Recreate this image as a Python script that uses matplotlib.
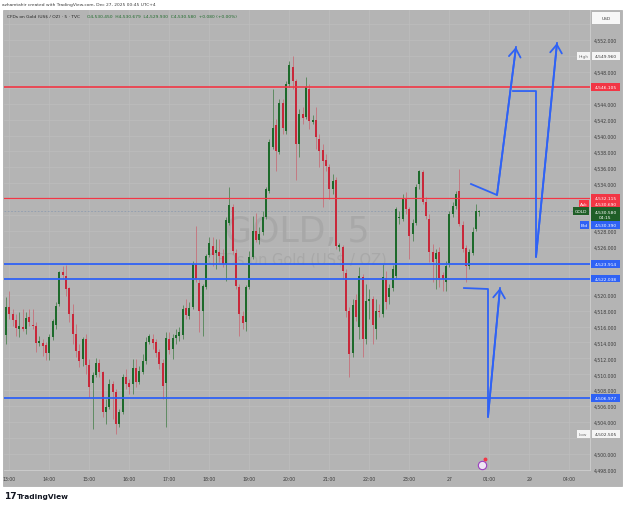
import numpy as np
import matplotlib.pyplot as plt
from matplotlib.patches import Rectangle

# 5 min candles, GOLD (TVC), 12:55 -> 00:45
opens = [4514.94, 4518.46, 4517.58, 4516.82, 4515.69, 4515.94, 4515.69, 4517.20, 4516.20, 4516.07,
         4513.93, 4513.93, 4513.68, 4512.68, 4514.69, 4516.20, 4518.83, 4522.85, 4522.35, 4520.84,
         4517.58, 4515.06, 4512.93, 4511.92, 4514.44, 4511.17, 4508.91, 4509.91, 4511.42, 4510.29,
         4505.27, 4505.89, 4508.78, 4507.78, 4503.76, 4505.27, 4509.66, 4508.91, 4508.78, 4510.79,
         4509.03, 4510.29, 4511.67, 4514.06, 4514.44, 4514.06, 4512.80, 4511.42, 4508.91, 4514.44,
         4513.18, 4514.56, 4514.81, 4514.94, 4518.33, 4517.33, 4518.46, 4523.86, 4521.47, 4517.95,
         4520.97, 4524.99, 4526.12, 4525.24, 4525.37, 4524.86, 4523.86, 4529.01, 4531.02, 4525.24,
         4520.97, 4517.33, 4516.57, 4520.97, 4524.74, 4528.00, 4526.87, 4527.88, 4529.76, 4533.03,
         4538.56, 4541.32, 4537.93, 4544.08, 4540.57, 4546.47, 4548.61, 4546.85, 4538.93, 4542.70,
         4542.33, 4545.84, 4541.70, 4541.95, 4539.56, 4538.18, 4536.92, 4536.04, 4533.28, 4534.41,
         4525.99, 4525.99, 4522.73, 4517.95, 4512.68, 4519.34, 4515.94, 4522.23, 4514.44, 4519.21,
         4519.46, 4515.69, 4517.95, 4517.58, 4522.10, 4519.71, 4520.84, 4522.35, 4529.64, 4529.51,
         4532.02, 4530.77, 4527.63, 4529.01, 4533.91, 4535.42, 4531.65, 4529.51, 4525.37, 4524.49,
         4525.37, 4522.48, 4521.60, 4523.86, 4530.14, 4531.15, 4533.03, 4528.76, 4525.87, 4523.61,
         4525.24, 4528.26, 4530.45]
highs = [4519.71, 4520.47, 4518.21, 4517.58, 4517.83, 4518.21, 4517.83, 4518.21, 4518.21, 4516.57,
         4514.81, 4514.44, 4514.06, 4515.06, 4516.95, 4519.08, 4522.98, 4523.61, 4523.73, 4520.97,
         4518.83, 4516.32, 4513.81, 4514.69, 4515.06, 4511.92, 4510.29, 4512.05, 4511.92, 4510.42,
         4506.90, 4509.41, 4509.16, 4508.15, 4505.64, 4510.04, 4510.67, 4509.41, 4511.92, 4511.92,
         4511.04, 4512.55, 4514.69, 4515.06, 4515.06, 4514.44, 4513.18, 4511.92, 4515.32, 4515.32,
         4515.06, 4515.69, 4515.94, 4518.71, 4519.46, 4519.08, 4524.24, 4528.63, 4521.97, 4521.35,
         4525.11, 4527.25, 4527.25, 4527.00, 4527.00, 4525.74, 4529.76, 4533.53, 4531.40, 4525.74,
         4521.35, 4517.95, 4521.22, 4525.49, 4529.89, 4530.27, 4528.51, 4530.52, 4533.53, 4539.56,
         4545.84, 4542.07, 4544.59, 4544.59, 4546.85, 4549.36, 4549.96, 4547.10, 4543.33, 4543.58,
         4547.35, 4546.47, 4542.58, 4543.58, 4540.19, 4538.93, 4537.68, 4536.42, 4535.17, 4534.79,
         4526.50, 4526.25, 4523.23, 4518.46, 4519.46, 4520.09, 4523.48, 4522.60, 4521.35, 4520.72,
         4519.84, 4519.46, 4518.83, 4523.86, 4522.98, 4521.35, 4523.73, 4531.02, 4530.52, 4532.65,
         4532.90, 4531.02, 4529.51, 4533.91, 4535.67, 4535.67, 4532.28, 4530.14, 4526.37, 4525.74,
         4525.99, 4522.85, 4524.24, 4530.52, 4531.65, 4533.03, 4535.79, 4529.26, 4526.25, 4525.74,
         4528.51, 4531.40, 4530.679]
lows = [4513.81, 4516.95, 4516.07, 4514.81, 4514.69, 4515.44, 4515.06, 4516.07, 4515.69, 4512.80,
        4513.56, 4512.30, 4511.80, 4511.80, 4514.31, 4515.69, 4518.58, 4521.97, 4519.84, 4516.57,
        4513.81, 4512.17, 4510.92, 4511.04, 4510.04, 4507.15, 4503.13, 4509.66, 4509.66, 4504.64,
        4503.76, 4505.64, 4504.39, 4502.505, 4503.38, 4505.01, 4508.15, 4507.53, 4507.53, 4508.41,
        4508.78, 4510.04, 4511.29, 4513.81, 4513.18, 4512.17, 4510.67, 4506.90, 4503.38, 4512.55,
        4511.92, 4513.81, 4514.18, 4514.44, 4516.95, 4516.95, 4518.21, 4521.60, 4515.32, 4514.81,
        4520.72, 4524.74, 4523.61, 4523.23, 4524.11, 4523.48, 4521.72, 4528.76, 4525.11, 4520.72,
        4514.81, 4515.69, 4515.44, 4520.72, 4524.49, 4526.62, 4526.37, 4527.50, 4529.51, 4532.78,
        4538.31, 4535.54, 4537.68, 4540.19, 4540.19, 4546.09, 4545.84, 4534.41, 4537.30, 4541.45,
        4542.07, 4540.82, 4541.45, 4538.31, 4536.04, 4531.02, 4535.54, 4532.02, 4532.65, 4525.74,
        4525.49, 4521.97, 4517.20, 4509.66, 4512.17, 4516.70, 4514.44, 4512.17, 4513.81, 4516.95,
        4513.81, 4514.44, 4517.20, 4517.20, 4518.21, 4518.83, 4520.47, 4521.97, 4528.88, 4529.26,
        4530.14, 4524.49, 4526.75, 4528.76, 4533.28, 4531.40, 4529.51, 4524.11, 4521.60, 4520.72,
        4520.97, 4520.47, 4520.47, 4523.48, 4529.76, 4530.77, 4528.63, 4525.37, 4521.60, 4523.23,
        4524.99, 4528.00, 4529.93]
closes = [4518.46, 4517.58, 4516.82, 4515.82, 4516.07, 4515.69, 4517.07, 4516.57, 4516.07, 4513.93,
          4514.18, 4513.56, 4512.68, 4514.69, 4516.70, 4518.58, 4522.85, 4522.48, 4520.72, 4517.58,
          4515.06, 4512.93, 4511.67, 4514.44, 4511.17, 4508.41, 4509.91, 4511.42, 4510.29, 4505.27,
          4505.89, 4508.78, 4507.78, 4503.76, 4505.27, 4509.66, 4508.78, 4508.41, 4510.79, 4509.03,
          4510.42, 4511.67, 4514.06, 4514.81, 4513.93, 4512.68, 4511.29, 4508.53, 4514.56, 4513.05,
          4514.56, 4514.94, 4515.32, 4518.21, 4517.45, 4518.33, 4523.86, 4521.97, 4517.95, 4521.09,
          4524.86, 4526.50, 4524.99, 4525.62, 4524.86, 4523.86, 4529.39, 4531.27, 4525.49, 4521.09,
          4517.58, 4516.45, 4520.97, 4524.74, 4528.00, 4526.87, 4527.63, 4529.76, 4533.28, 4539.19,
          4540.94, 4538.05, 4544.08, 4540.94, 4546.47, 4548.86, 4546.85, 4538.93, 4542.70, 4542.20,
          4546.09, 4541.82, 4541.95, 4539.81, 4538.05, 4536.80, 4536.17, 4533.28, 4534.29, 4526.12,
          4526.25, 4522.98, 4517.95, 4512.55, 4518.71, 4517.20, 4522.35, 4514.44, 4519.21, 4519.46,
          4516.20, 4517.95, 4517.83, 4522.23, 4519.08, 4520.84, 4523.23, 4530.77, 4529.76, 4532.02,
          4530.77, 4527.38, 4529.01, 4533.53, 4535.54, 4531.65, 4529.89, 4525.37, 4524.11, 4525.24,
          4522.10, 4521.97, 4523.61, 4530.14, 4531.15, 4532.65, 4528.88, 4525.74, 4523.61, 4525.37,
          4527.88, 4530.52, 4530.58]

time_ticks = [1, 13, 25, 37, 49, 61, 73, 85, 97, 109, 121, 133, 145, 157, 169]
time_labels = ["13:00", "14:00", "15:00", "16:00", "17:00", "18:00", "19:00", "20:00",
               "21:00", "22:00", "23:00", "27", "01:00", "29", "04:00"]
price_ticks = [4498, 4500, 4502, 4504, 4506, 4508, 4510, 4512, 4514, 4516, 4518, 4520, 4522, 4524,
               4526, 4528, 4530, 4532, 4534, 4536, 4538, 4540, 4542, 4544, 4546, 4548, 4550, 4552, 4554]

red_levels = [4546.105, 4532.115]
blue_levels = [4523.914, 4522.038, 4506.977]
last_price = 4530.58
ask_price = 4530.690
bid_price = 4530.390
day_high = 4549.960
day_low = 4502.505

# hand drawn projections (candle index, price)
arrow1 = [(139.5, 4533.91), (147.3, 4532.53), (153.0, 4551.12)]
arrow2 = [(152.1, 4545.59), (159.0, 4545.59), (159.0, 4524.74), (165.3, 4551.62)]
arrow3 = [(137.4, 4520.84), (144.6, 4520.72), (144.6, 4504.64), (148.2, 4520.84)]
event_pos = (142.8, 4498.6)

BG = "#b4b4b4"
UP = "#1d6a2b"
DOWN = "#c8283a"
BLUE = "#2f62f5"
RED = "#f23645"
TXT = "#3a3a3a"
GREY_TAG = "#f4f4f4"

W, H = 625, 510
def fx(px):
    return px / W
def fy(py):
    return 1 - py / H

# price scale tags: (x0, x1, centre, height, text, face, text colour)
tags = [
    (2, 30, 4554.76, 1.5, "USD", "#f7f7f7", TXT),
    (2, 30, day_high, 1.0, f"{day_high:,.3f}", GREY_TAG, TXT),
    (-13, -0.5, day_high, 1.0, "High", GREY_TAG, "#777777"),
    (1, 30, red_levels[0], 1.0, f"{red_levels[0]:,.3f}", RED, "white"),
    (1, 30, red_levels[1], 1.0, f"{red_levels[1]:,.3f}", RED, "white"),
    (1, 30, 4531.40, 1.0, f"{ask_price:,.3f}", RED, "white"),
    (-11, -1, 4531.40, 1.0, "Ask", RED, "white"),
    (1, 30, 4530.08, 1.9, f"{last_price:,.3f}\n04:15", "#1f5e27", "white"),
    (-17, -1, 4530.52, 1.0, "GOLD", "#1f5e27", "white"),
    (1, 30, 4528.76, 1.0, f"{bid_price:,.3f}", BLUE, "white"),
    (-10, -1, 4528.76, 1.0, "Bid", BLUE, "white"),
    (1, 30, blue_levels[0], 1.0, f"{blue_levels[0]:,.3f}", BLUE, "white"),
    (1, 30, blue_levels[1], 1.0, f"{blue_levels[1]:,.3f}", BLUE, "white"),
    (1, 30, blue_levels[2], 1.0, f"{blue_levels[2]:,.3f}", BLUE, "white"),
    (2, 30, day_low, 1.0, f"{day_low:,.3f}", GREY_TAG, TXT),
    (-13, -0.5, day_low, 1.0, "Low", GREY_TAG, "#777777"),
]

fig = plt.figure(figsize=(6.25, 5.1), dpi=100)
fig.patch.set_facecolor("white")
fig.add_artist(Rectangle((fx(3), fy(487)), 619 / W, 476 / H, transform=fig.transFigure,
                         facecolor=BG, edgecolor="#a9a9a9", lw=0.5, zorder=-1))

ylim = (4497.98, 4555.77)
ax = fig.add_axes([fx(4), fy(471), 586 / W, 460 / H])
ax.set_facecolor(BG)
ax.set_xlim(-0.6, 175.2)
ax.set_ylim(*ylim)

# watermark
ax.text(0.5, 0.52, "GOLD, 5", transform=ax.transAxes, ha="center", va="center",
        fontsize=25, color="#a8a8a8", zorder=1)
ax.text(0.5, 0.459, "CFDs on Gold (US$ / OZ)", transform=ax.transAxes, ha="center", va="center",
        fontsize=10.5, color="#a8a8a8", zorder=1)

# candles
x = np.arange(len(opens))
o = np.array(opens)
c = np.array(closes)
up = c >= o
ax.vlines(x, lows, highs, colors=np.where(up, "#5f8b62", "#c47a82"), lw=0.7, zorder=3)
ax.bar(x, np.maximum(np.abs(c - o), 0.08), bottom=np.minimum(o, c), width=0.68,
       color=np.where(up, UP, DOWN), lw=0, zorder=4)

# levels
ax.axhline(red_levels[0], color=RED, lw=1.2, zorder=5)
ax.axhline(red_levels[1], color=RED, lw=0.9, zorder=5)
for lv in blue_levels:
    ax.axhline(lv, color=BLUE, lw=1.3, zorder=5)
ax.axhline(last_price, color="#8e9db0", lw=0.6, ls=(0, (2, 2)), zorder=2)

# projections
for path in [arrow1, arrow2, arrow3]:
    xs, ys = zip(*path)
    ax.plot(xs, ys, color=BLUE, lw=1.3, zorder=6, solid_joinstyle="round")
    ax.annotate("", xy=path[-1], xytext=path[-2],
                arrowprops=dict(arrowstyle="->,head_length=0.5,head_width=0.35", color=BLUE,
                                lw=1.3, mutation_scale=12, shrinkA=0, shrinkB=0), zorder=6)

ax.plot(*event_pos, marker="o", ms=6, mfc="#efe6f5", mec="#9c3fc0", mew=0.8, zorder=8, clip_on=False)
ax.plot(event_pos[0] + 1.0, event_pos[1] + 0.7, marker="o", ms=1.8, color=RED, zorder=9, clip_on=False)

# axes; price labels hidden where a tag sits on top of them
def covered(v):
    return any(abs(v - t[2]) < t[3] / 2 + 0.2 for t in tags if t[0] >= 0)

ax.set_xticks(time_ticks, time_labels)
ax.yaxis.tick_right()
ax.set_yticks(price_ticks, ["" if covered(v) else f"{v:,.3f}" for v in price_ticks])
ax.tick_params(axis="x", length=0, pad=4, labelsize=3.3, labelcolor=TXT)
ax.tick_params(axis="y", length=0, pad=3, labelsize=3.3, labelcolor=TXT)
ax.grid(color="#bdbdbd", lw=0.5)
ax.set_axisbelow(True)
for s in ["top", "left"]:
    ax.spines[s].set_visible(False)
for s in ["right", "bottom"]:
    ax.spines[s].set_color("#cfcfcf")
    ax.spines[s].set_linewidth(0.6)

ax.text(0.005, 0.987, "CFDs on Gold (US$ / OZ) · 5 · TVC", transform=ax.transAxes,
        fontsize=3.2, color="#222222", va="center")
ax.text(0.142, 0.987, "O4,530.450  H4,530.679  L4,529.930  C4,530.580  +0.080 (+0.00%)",
        transform=ax.transAxes, fontsize=3.2, color="#1f6b2b", va="center")

axp = fig.add_axes([fx(590), fy(471), 32 / W, 460 / H])
axp.set_xlim(0, 32)
axp.set_ylim(*ylim)
axp.axis("off")

for x0, x1, yc, h, text, fc, tc in tags:
    axp.add_patch(Rectangle((x0, yc - h / 2), x1 - x0, h, facecolor=fc, edgecolor="none",
                            clip_on=False, zorder=6))
    axp.text((x0 + x1) / 2, yc, text, ha="center", va="center", color=tc, fontsize=3.2,
             zorder=7, clip_on=False)

fig.text(fx(2), fy(5), "azhamtahir created with TradingView.com, Dec 27, 2025 00:45 UTC+4",
         fontsize=3.2, color=TXT, va="center")
fig.text(fx(4), fy(497), "17", fontsize=6.5, fontweight="bold", color="#131722", va="center")
fig.text(fx(17), fy(497), "TradingView", fontsize=5.3, fontweight="bold", color="#131722", va="center")

fig.savefig("out.png", dpi=100)
